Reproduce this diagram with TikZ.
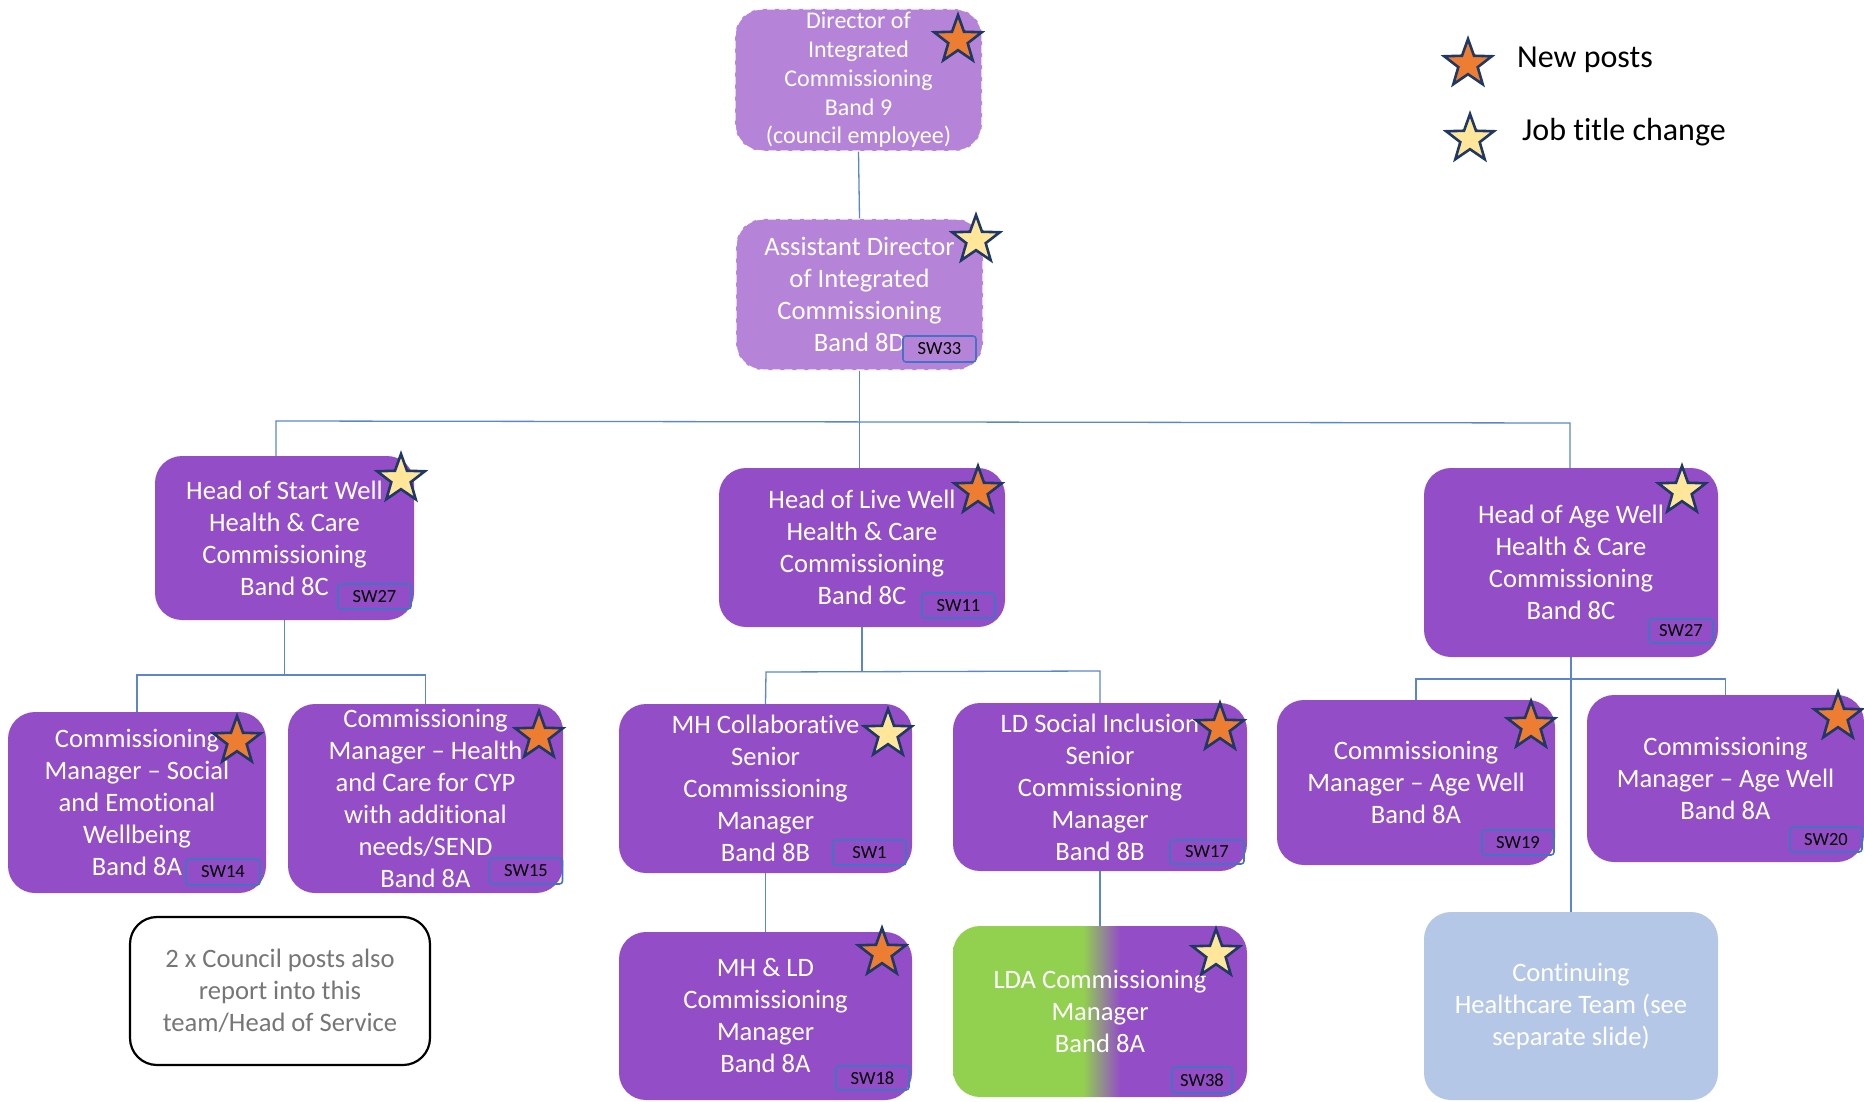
\documentclass[tikz,border=0pt]{standalone}
\usepackage{fontspec}
\setmainfont{Carlito}[Ligatures=NoCommon]
\usetikzlibrary{shapes.geometric}
\definecolor{boxpurple}{HTML}{934EC7}
\definecolor{palepurple}{HTML}{B584D9}
\definecolor{ldagreen}{HTML}{92D050}
\definecolor{paleblue}{HTML}{B4C7E7}
\definecolor{linkblue}{HTML}{5B87C9}
\definecolor{badgeblue}{HTML}{4472C4}
\definecolor{starorange}{HTML}{ED7D31}
\definecolor{staryellow}{HTML}{FFE699}
\definecolor{starnavy}{HTML}{1F3864}
\definecolor{notegrey}{HTML}{767676}
\pgfdeclarehorizontalshading{ldagrad}{100bp}{color(0bp)=(ldagreen); color(47.1bp)=(ldagreen); color(53.4bp)=(boxpurple); color(100bp)=(boxpurple)}
\tikzset{
  post/.style 2 args={rectangle,rounded corners=27pt,inner sep=0pt,align=center,text=white,
    minimum width=#1pt,minimum height=#2pt,font=\fontsize{26.6}{32}\selectfont,
    execute at begin node={\rule{0pt}{0.97em}}},
  solidpost/.style={fill=boxpurple},
  dashpost/.style={fill=palepurple,draw=white,line width=1.3pt,dash pattern=on 8pt off 4pt},
  link/.style={draw=linkblue,line width=1.3pt},
  badge/.style 2 args={rectangle,rounded corners=3pt,draw=badgeblue,line width=1.6pt,inner sep=0pt,
    text=black,minimum width=#1pt,minimum height=#2pt,font=\fontsize{18.5}{20}\selectfont},
  starshape/.style={star,star points=5,star point ratio=2.45,minimum size=50pt,inner sep=0pt,
    draw=starnavy,line width=2.6pt,miter limit=10},
  newstar/.style={starshape,fill=starorange},
  changestar/.style={starshape,fill=staryellow},
  legendtext/.style={anchor=west,inner sep=0pt,text=black,font=\fontsize{32}{36}\selectfont},
}
\begin{document}
\begin{tikzpicture}[x=1pt,y=-1pt]
\useasboundingbox (0,0) rectangle (1864,1102);
% posts
\node[post={247}{142},dashpost,font=\fontsize{24}{28.8}\selectfont] (director) at (858.5,80) {Director of\\Integrated\\Commissioning\\Band 9\\(council employee)};
\node[post={247}{151},dashpost] (assistant) at (859.5,294.5) {Assistant Director\\of Integrated\\Commissioning\\Band 8D};
\node[post={259}{164},solidpost] (start) at (284.5,538) {Head of Start Well\\Health \& Care\\Commissioning\\Band 8C};
\node[post={286}{159},solidpost] (live) at (862,547.5) {Head of Live Well\\Health \& Care\\Commissioning\\Band 8C};
\node[post={294}{189},solidpost] (age) at (1571,562.5) {Head of Age Well\\Health \& Care\\Commissioning\\Band 8C};
\node[post={258}{181},solidpost] (social) at (137,802.5) {Commissioning\\Manager – Social\\and Emotional\\Wellbeing\\Band 8A};
\node[post={275}{189},solidpost] (health) at (425.5,798.5) {Commissioning\\Manager – Health\\and Care for CYP\\with additional\\needs/SEND\\Band 8A};
\node[post={300}{148},fill=white,draw=black,line width=2.2pt,text=notegrey] (note) at (280,991) {2 x Council posts also\\report into this\\team/Head of Service};
\node[post={293}{169},solidpost] (mhc) at (765.5,788.5) {MH Collaborative\\Senior\\Commissioning\\Manager\\Band 8B};
\node[post={294}{168},solidpost] (lds) at (1100,787) {LD Social Inclusion\\Senior\\Commissioning\\Manager\\Band 8B};
\node[post={293}{168},solidpost] (mhld) at (765.5,1016) {MH \& LD\\Commissioning\\Manager\\Band 8A};
\node[post={294}{171},shade,shading=ldagrad] (lda) at (1100,1011.5) {LDA Commissioning\\Manager\\Band 8A};
\node[post={278}{165},solidpost] (ageone) at (1416,782.5) {Commissioning\\Manager – Age Well\\Band 8A};
\node[post={277}{167},solidpost] (agetwo) at (1725.5,778.5) {Commissioning\\Manager – Age Well\\Band 8A};
\node[post={294}{188},fill=paleblue] (chc) at (1571,1006) {Continuing\\Healthcare Team (see\\separate slide)};
% connector junctions
\coordinate (busL) at (276,421);
\coordinate (busR) at (1570,423);
\coordinate (startL) at (137,675);
\coordinate (startR) at (425.5,675);
\coordinate (liveL) at (766,672);
\coordinate (liveR) at (1100,671);
\coordinate (ageL) at (1416,679);
\coordinate (ageR) at (1725.5,679);
% connectors
\draw[link] (director.south) -- (assistant.north);
\draw[link] (assistant.south) -- (assistant.south |- live.north);
\draw[link] (busL |- start.north) -- (busL) -- (busR) -- (busR |- age.north);
\draw[link] (start.south) -- (start.south |- startL);
\draw[link] (social.north) -- (startL) -- (startR) -- (health.north);
\draw[link] (live.south) -- (live.south |- liveL);
\draw[link] (mhc.north) -- (liveL) -- (liveR) -- (lds.north);
\draw[link] (mhc.south) -- (mhld.north);
\draw[link] (lds.south) -- (lda.north);
\draw[link] (age.south) -- (chc.north);
\draw[link] (ageone.north) -- (ageL) -- (ageR) -- (agetwo.north);
% badges
\node[badge={73}{26}] (b33) at (939.5,349) {SW33};
\node[badge={73}{25}] (b27a) at (374.5,596.5) {SW27};
\node[badge={73}{25}] (b11) at (958.5,605.5) {SW11};
\node[badge={64}{24}] (b27b) at (1681,631) {SW27};
\node[badge={74}{26}] (b14) at (223,872) {SW14};
\node[badge={73}{26}] (b15) at (526,871) {SW15};
\node[badge={73}{25}] (b1) at (869.5,852.5) {SW1};
\node[badge={74}{24}] (b17) at (1207,852) {SW17};
\node[badge={73}{24}] (b18) at (872.5,1078) {SW18};
\node[badge={60}{26}] (b38) at (1202,1080) {SW38};
\node[badge={72}{25}] (b19) at (1518,842.5) {SW19};
\node[badge={72}{25}] (b20) at (1826,839.5) {SW20};
% stars
\node[newstar] (s1) at (958,40) {};
\node[changestar] (s2) at (976,240) {};
\node[changestar] (s3) at (401,479) {};
\node[newstar] (s4) at (978,491) {};
\node[changestar] (s5) at (1682,491) {};
\node[newstar] (s6) at (237,741) {};
\node[newstar] (s7) at (539,736) {};
\node[changestar] (s8) at (888,734) {};
\node[newstar] (s9) at (1220,728) {};
\node[newstar] (s10) at (882,953) {};
\node[changestar] (s11) at (1216,954) {};
\node[newstar] (s12) at (1531,726) {};
\node[newstar] (s13) at (1838,717) {};
% legend
\node[newstar] (legendnew) at (1468,64) {};
\node[changestar] (legendchange) at (1470,139) {};
\node[legendtext] (legendnewtext) at (1517,60) {New posts};
\node[legendtext] (legendchangetext) at (1522,132) {Job title change};
\end{tikzpicture}
\end{document}
